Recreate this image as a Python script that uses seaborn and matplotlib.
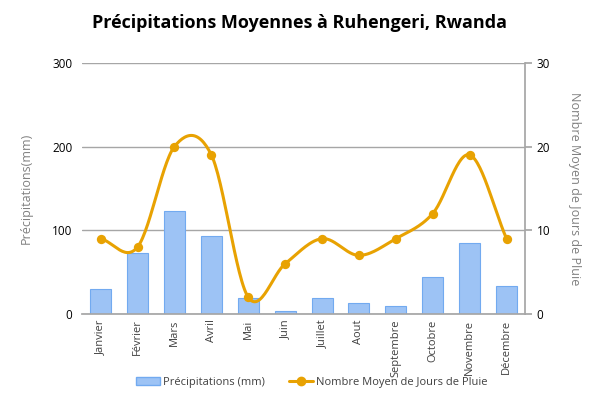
import numpy as np
import pandas as pd
import matplotlib
matplotlib.use('Agg')
import matplotlib.pyplot as plt
from matplotlib.patches import Patch
from matplotlib.lines import Line2D
from matplotlib.ticker import FixedLocator
import seaborn as sns

months = ["Janvier", "Février", "Mars", "Avril", "Mai", "Juin",
          "Juillet", "Aout", "Septembre", "Octobre", "Novembre", "Décembre"]
precip_mm = [30, 73, 123, 93, 19, 4, 19, 13, 10, 44, 85, 33]
rain_days = [9, 8, 20, 19, 2, 6, 9, 7, 9, 12, 19, 9]

bar_color = "#9DC3F5"
bar_edge = "#72AAF0"
line_color = "#E8A202"
grid_color = "#A6A6A6"
text_color = "#404040"
label_color = "#808080"

sns.set_theme(style="white")
plt.rcParams['font.family'] = ['Open Sans', 'DejaVu Sans']


def smooth_curve(xs, ys, n=30):
    # Catmull-Rom style smoothing like spreadsheet "smoothed line"
    xs = np.asarray(xs, float)
    ys = np.asarray(ys, float)
    px = np.concatenate([[2 * xs[0] - xs[1]], xs, [2 * xs[-1] - xs[-2]]])
    py = np.concatenate([[2 * ys[0] - ys[1]], ys, [2 * ys[-1] - ys[-2]]])
    out_x, out_y = [], []
    t = np.linspace(0, 1, n)
    for i in range(1, len(px) - 2):
        for arr, out in ((px, out_x), (py, out_y)):
            p0, p1, p2, p3 = arr[i - 1], arr[i], arr[i + 1], arr[i + 2]
            out.extend(0.5 * ((2 * p1) + (-p0 + p2) * t
                              + (2 * p0 - 5 * p1 + 4 * p2 - p3) * t ** 2
                              + (-p0 + 3 * p1 - 3 * p2 + p3) * t ** 3))
    return np.array(out_x), np.array(out_y)


df = pd.DataFrame({"Mois": months, "Precip": precip_mm, "Jours": rain_days})

fig = plt.figure(figsize=(6, 4), dpi=100)
ax = fig.add_axes([0.137, 0.215, 0.738, 0.628])

sns.barplot(data=df, x="Mois", y="Precip", ax=ax, color=bar_color,
            edgecolor=bar_edge, linewidth=0.8, width=0.57, saturation=1)
ax.set_ylim(0, 300)
ax.set_yticks([0, 100, 200, 300])
ax.set_xlim(-0.5, len(months) - 0.5)
ax.yaxis.grid(True, color=grid_color, linewidth=1)
ax.set_axisbelow(True)
for s in ["top", "left", "right"]:
    ax.spines[s].set_visible(False)
ax.spines["bottom"].set_color(grid_color)
ax.tick_params(axis="y", length=0, labelsize=8.5, labelcolor="black", pad=7)
ax.tick_params(axis="x", which="major", length=0, labelsize=8, labelcolor=text_color,
               rotation=90, pad=4)
ax.xaxis.set_minor_locator(FixedLocator(np.arange(-0.5, len(months), 1.0)))
ax.tick_params(axis="x", which="minor", length=5, color=grid_color, width=1)
ax.set_xlabel("")
ax.set_ylabel("Précipitations(mm)", color=label_color, fontsize=9, labelpad=14)

ax2 = ax.twinx()
ax2.set_ylim(0, 30)
ax2.set_yticks([0, 10, 20, 30])
xpos = np.arange(len(months))
sx, sy = smooth_curve(xpos, rain_days)
ax2.plot(sx, sy, color=line_color, linewidth=2.2)
sns.scatterplot(x=xpos, y=rain_days, ax=ax2, color=line_color, s=45,
                edgecolor=line_color, linewidth=0, zorder=3)
for s in ["top", "left", "bottom"]:
    ax2.spines[s].set_visible(False)
ax2.spines["right"].set_color(grid_color)
ax2.tick_params(axis="y", length=5, color=grid_color, labelsize=8.5, labelcolor="black")
ax2.set_ylabel("Nombre Moyen de Jours de Pluie", color=label_color, fontsize=9,
               rotation=270, labelpad=22)

fig.suptitle("Précipitations Moyennes à Ruhengeri, Rwanda", fontsize=13,
             fontweight="bold", y=0.965, color="black")

handles = [Patch(facecolor=bar_color, edgecolor=bar_edge, label="Précipitations (mm)"),
           Line2D([0], [0], color=line_color, lw=2.2, marker="o", markersize=6,
                  label="Nombre Moyen de Jours de Pluie")]
fig.legend(handles=handles, loc="center", bbox_to_anchor=(0.52, 0.045), ncol=2,
           frameon=False, fontsize=8, labelcolor=text_color, handlelength=2.1,
           columnspacing=2.2, handletextpad=0.3)

fig.savefig("out.png", dpi=100)
